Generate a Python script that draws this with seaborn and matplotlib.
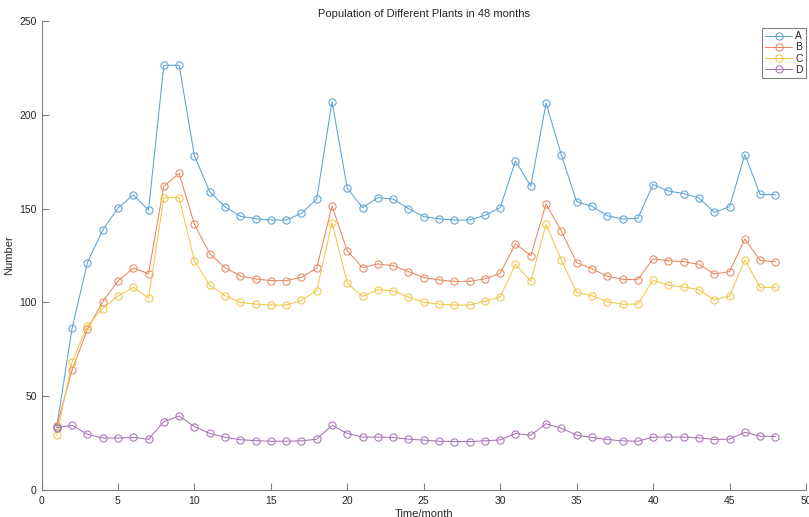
import numpy as np
import pandas as pd
import matplotlib
matplotlib.use("Agg")
import matplotlib.pyplot as plt
from matplotlib.lines import Line2D
import seaborn as sns

months = list(range(1, 49))
A = [33.8, 86.2, 121.2, 138.5, 150.3, 157.3, 149.2, 226.4, 226.4, 178.2,
     159.0, 151.0, 146.0, 144.6, 143.9, 143.9, 147.5, 155.1, 207.0, 160.8,
     150.5, 155.8, 155.1, 150.0, 145.7, 144.6, 143.9, 143.9, 146.4, 150.5,
     175.4, 162.0, 206.2, 178.6, 153.7, 151.2, 146.2, 144.5, 144.8, 162.8,
     159.4, 158.0, 155.7, 148.0, 151.0, 178.8, 157.6, 157.4]
B = [34.0, 64.0, 85.6, 100.4, 111.4, 118.3, 115.3, 162.0, 168.8, 141.6,
     126.0, 118.5, 114.1, 112.5, 111.6, 111.6, 113.4, 118.3, 151.4, 127.4,
     118.5, 120.5, 119.6, 116.4, 113.2, 112.0, 111.2, 111.2, 112.6, 115.5,
     131.3, 124.9, 152.5, 137.9, 121.2, 118.0, 113.9, 112.3, 112.1, 123.2,
     122.2, 121.7, 120.3, 115.1, 116.4, 133.8, 122.4, 121.7]
C = [29.1, 68.2, 87.6, 96.7, 103.4, 108.0, 102.3, 155.8, 155.8, 122.2,
     109.1, 103.6, 100.0, 99.1, 98.6, 98.6, 101.1, 106.2, 142.5, 110.2,
     103.2, 106.8, 106.2, 102.9, 100.0, 99.1, 98.6, 98.6, 100.6, 103.0,
     120.3, 111.2, 141.6, 122.6, 105.4, 103.6, 100.4, 99.0, 99.1, 111.8,
     109.1, 108.2, 106.8, 101.4, 103.4, 122.6, 108.0, 108.0]
D = [33.2, 34.5, 29.7, 27.7, 27.7, 28.1, 27.0, 36.4, 39.4, 33.8,
     30.2, 28.1, 26.8, 26.3, 26.0, 26.0, 26.2, 27.1, 34.5, 30.1,
     28.2, 28.2, 28.0, 27.1, 26.6, 26.0, 25.8, 25.8, 26.2, 26.7,
     30.1, 29.2, 35.3, 32.9, 29.3, 28.0, 26.9, 26.2, 26.0, 28.2,
     28.2, 28.2, 27.8, 26.9, 27.1, 30.8, 28.7, 28.5]
series_names = ["A", "B", "C", "D"]
colors = ["#5aa3d8", "#e8875f", "#f3c548", "#a673b5"]

title = "Population of Different Plants in 48 months"
xlabel = "Time/month"
ylabel = "Number"
xticks = [0, 5, 10, 15, 20, 25, 30, 35, 40, 45, 50]
yticks = [0, 50, 100, 150, 200, 250]

frames = []
for name, vals in zip(series_names, [A, B, C, D]):
    frames.append(pd.DataFrame({"month": months, "value": vals, "plant": name}))
df = pd.concat(frames, ignore_index=True)

sns.set_style("white")
plt.rcParams["font.family"] = ["Liberation Sans", "DejaVu Sans"]
text_color = "#262626"
axis_color = "#808080"

fig = plt.figure(figsize=(8.09, 5.17), dpi=100)
ax = fig.add_axes([41.5 / 809, 27 / 517, (806 - 41.5) / 809, (490 - 21) / 517])

sns.lineplot(data=df, x="month", y="value", hue="plant", hue_order=series_names,
             palette=colors, marker="o", markersize=5.2,
             linewidth=0.75, ax=ax, legend=False)

for line, c in zip(ax.lines, colors):
    line.set_markerfacecolor("none")
    line.set_markeredgecolor(c)
    line.set_markeredgewidth(0.75)

ax.set_xlim(0, 50)
ax.set_ylim(0, 250)
ax.set_xticks(xticks)
ax.set_yticks(yticks)
ax.tick_params(axis="both", which="major", direction="in", length=5, width=0.8,
               color=axis_color, labelsize=7.5, labelcolor=text_color,
               bottom=True, left=True, top=False, right=False)
ax.tick_params(axis="x", pad=4.5)
ax.tick_params(axis="y", pad=3.5)
for s in ["top", "right"]:
    ax.spines[s].set_visible(False)
for s in ["left", "bottom"]:
    ax.spines[s].set_color(axis_color)
    ax.spines[s].set_linewidth(0.8)

ax.set_xlabel(xlabel, fontsize=8, color=text_color, labelpad=2)
ax.set_ylabel(ylabel, fontsize=8, color=text_color, labelpad=4)
ax.set_title(title, fontsize=8, color=text_color, pad=3)

handles = [Line2D([], [], color=c, linewidth=0.75, marker="o", markersize=5.2,
                  markerfacecolor="none", markeredgecolor=c, markeredgewidth=0.75)
           for c in colors]
leg = ax.legend(handles, series_names, loc="upper right", bbox_to_anchor=(1.0, 0.985),
                borderaxespad=0, fontsize=7.5, frameon=True, fancybox=False,
                framealpha=1, edgecolor=axis_color, handlelength=2.6,
                labelspacing=0.12, handletextpad=0.3, borderpad=0.3, numpoints=1)
leg.get_frame().set_linewidth(0.8)

fig.savefig("out.png", dpi=100)
